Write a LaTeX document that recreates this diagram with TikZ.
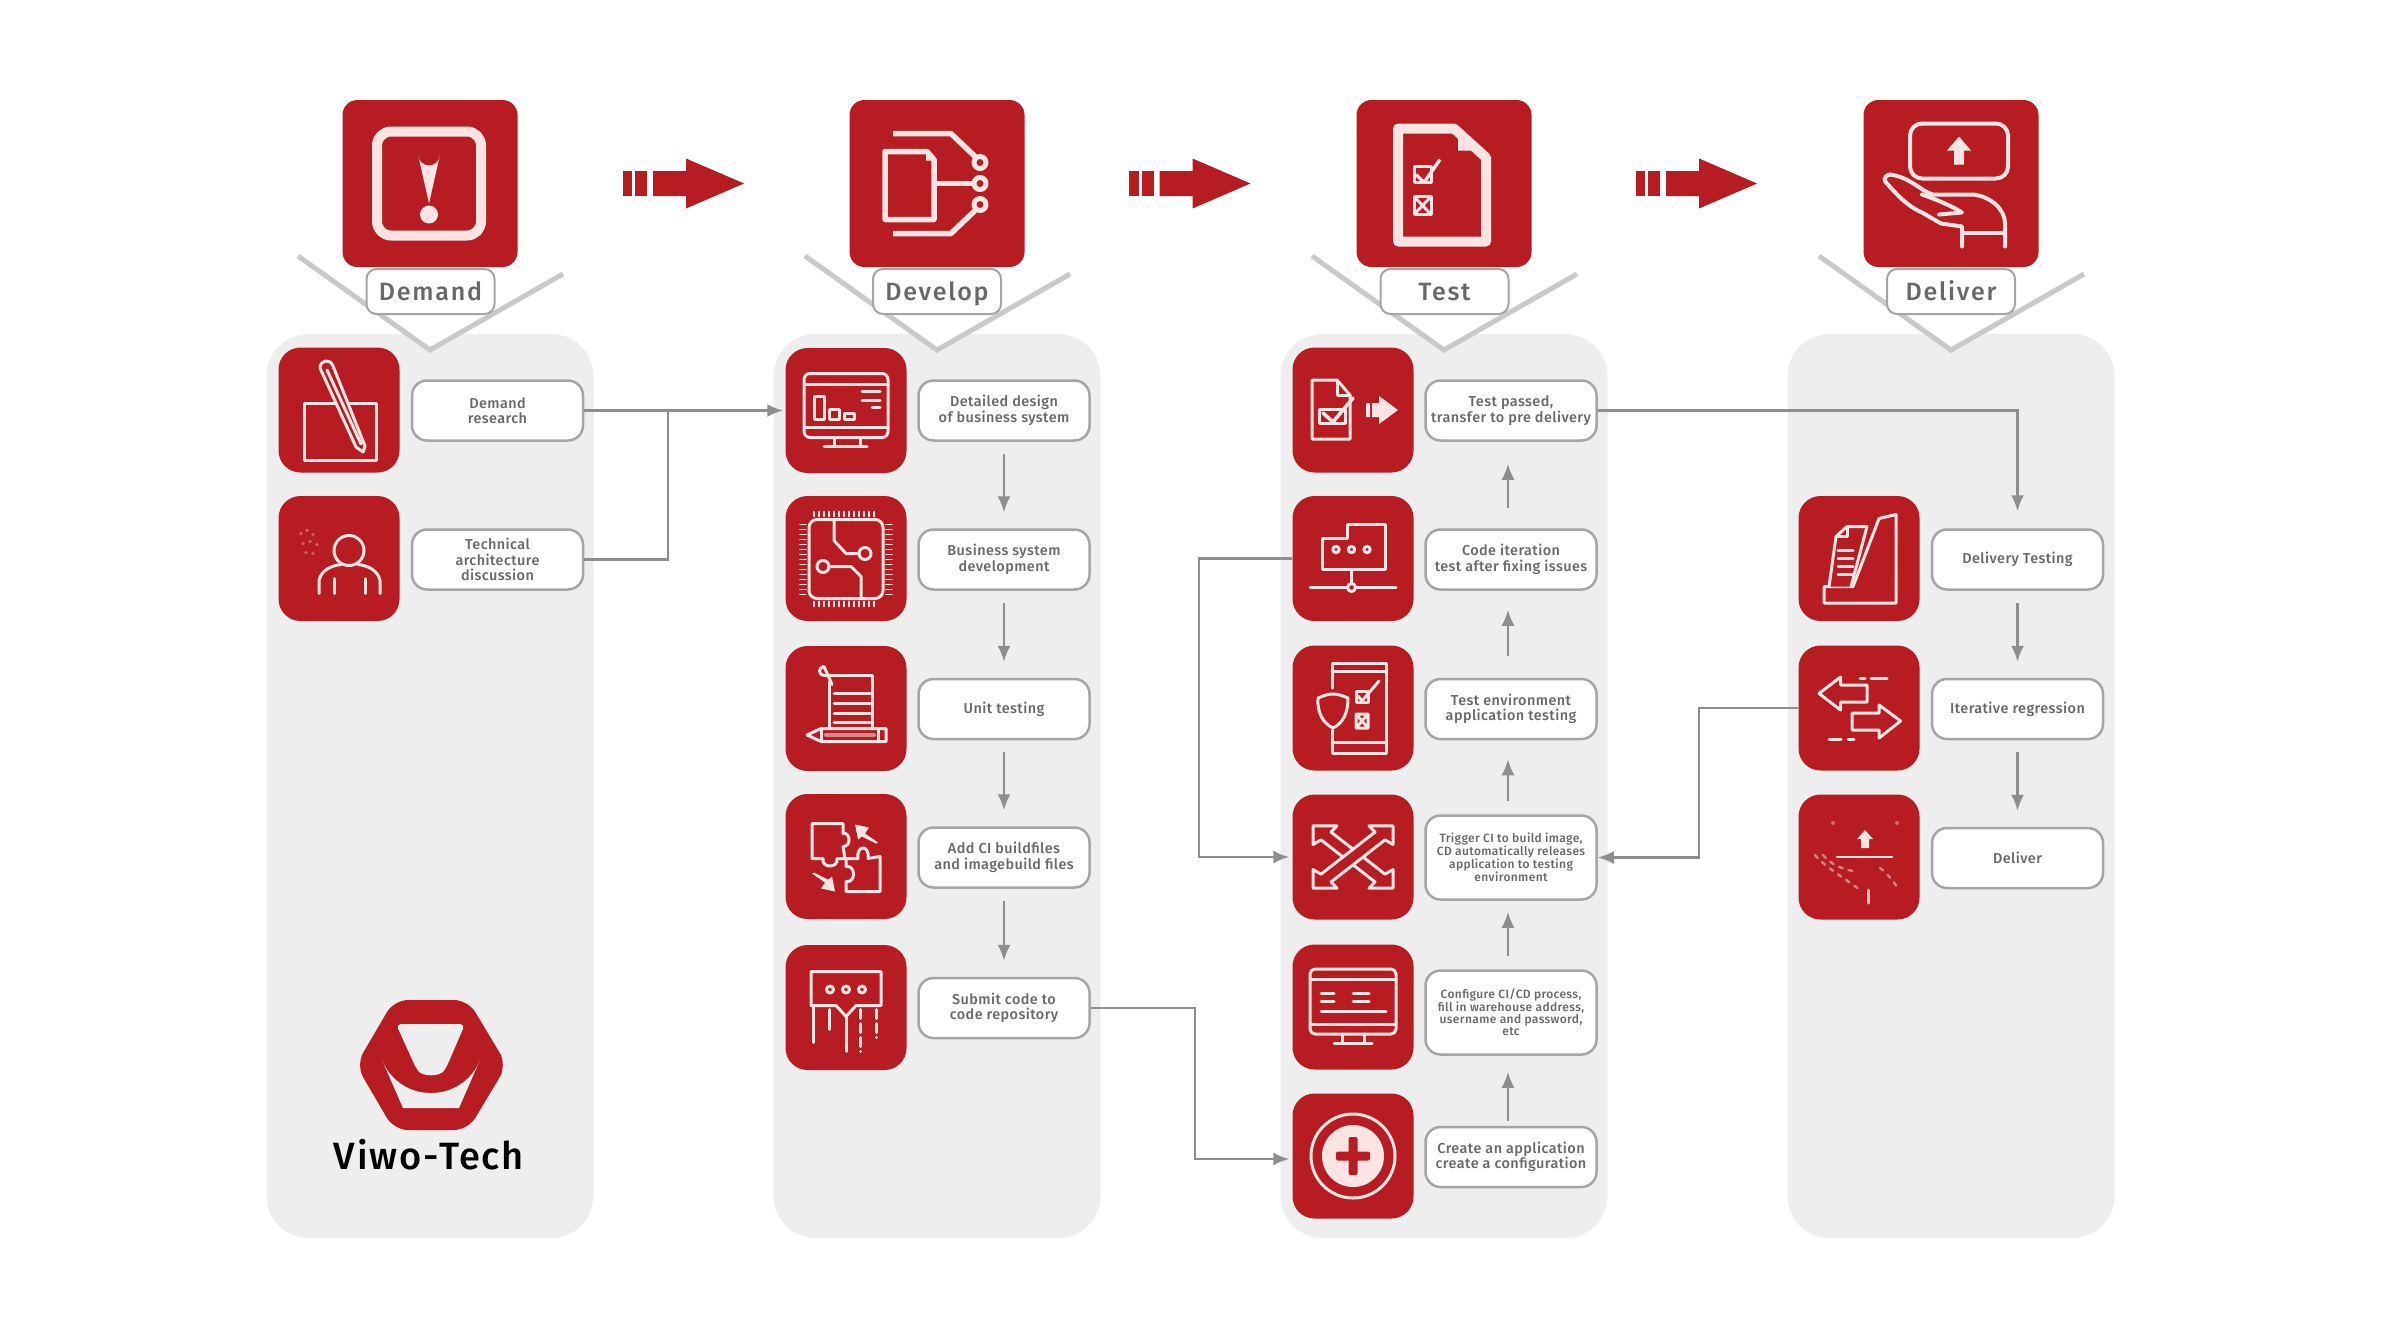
\documentclass[tikz,border=0pt]{standalone}
\usepackage{fontspec}
\setmainfont{Fira Sans}
\newfontfamily\headfont[LetterSpace=7]{Fira Sans Medium}
\newfontfamily\bodyfont[LetterSpace=3]{Fira Sans Medium}
\newfontfamily\logofont[LetterSpace=5]{Fira Sans Medium}
\usetikzlibrary{arrows.meta,positioning,calc}
\definecolor{boxred}{HTML}{B71C22}
\definecolor{iconwhite}{HTML}{FBE4E2}
\definecolor{panelgray}{HTML}{EEEEEE}
\definecolor{edgegray}{HTML}{A3A5A7}
\definecolor{veegray}{HTML}{C9C9C9}
\definecolor{linegray}{HTML}{8C8E90}
\definecolor{textgray}{HTML}{66686B}
\newcommand{\oneline}[1]{\raisebox{-3pt}{#1}}
\tikzset{
  panel/.style={fill=panelgray,rounded corners=42pt},
  headbox/.style={fill=boxred,rounded corners=15pt,minimum width=175pt,minimum height=167pt,inner sep=0pt},
  headlabel/.style={draw=edgegray,fill=white,rounded corners=10pt,line width=2pt,minimum width=128pt,minimum height=45pt,inner sep=0pt,text=textgray,text height=22pt,text depth=5pt,font=\headfont\fontsize{25}{25}\selectfont},
  iconbox/.style={fill=boxred,rounded corners=22pt,minimum width=121pt,minimum height=125pt,inner sep=0pt},
  textbox/.style={draw=edgegray,fill=white,rounded corners=15pt,line width=2.5pt,minimum width=171pt,minimum height=60pt,inner sep=0pt,align=center,text=textgray,font=\bodyfont\fontsize{14.4}{15.5}\selectfont},
  tinytext/.style={font=\bodyfont\fontsize{12}{12}\selectfont},
  link/.style={draw=linegray,line width=2.6pt},
  conn/.style={link,-{Latex[length=16pt,width=13pt]}},
  flow/.style={conn,line width=2.2pt},
  icon/.style={draw=iconwhite,line width=3pt,line cap=round,line join=round},
  headicon/.style={draw=iconwhite,line width=5.5pt,line join=round},
}
\begin{document}
\begin{tikzpicture}[x=1pt,y=-1pt]
\useasboundingbox (0,0) rectangle (2381,1339);

% panels and the V under each head
\foreach \x in {430,937,1444,1951} {
\fill[panel] (\x-163.5,334) rectangle (\x+163.5,1238);
\fill[white] (\x-132,256) -- (\x,350) -- (\x+133,274) -- (\x,225) -- cycle;
\draw[veegray,line width=5pt] (\x-132,256) -- (\x,350) -- (\x+133,274);
}

% heads
\foreach \nm/\x in {demandhead/430,develophead/937,testhead/1444,deliverhead/1951}
\node[headbox] (\nm) at (\x,183.5) {};
\node[headlabel] (demandlabel) at (430.5,291.5) {Demand};
\node[headlabel] (developlabel) at (937,291.5) {Develop};
\node[headlabel] (testlabel) at (1444.5,291.5) {Test};
\node[headlabel] (deliverlabel) at (1951,291.5) {Deliver};

% big arrows between the heads
\foreach \x in {622.5,1129,1635.5} {
\begin{scope}[shift={(\x,183.5)}]
\fill[boxred] (0,-12.5) rectangle (9.5,12.5);
\fill[boxred] (12.5,-12.5) rectangle (24.5,12.5);
\fill[boxred] (30.5,-12.5) -- (63.5,-12.5) -- (63.5,-25) -- (121.5,0) -- (63.5,25) -- (63.5,12.5) -- (30.5,12.5) -- cycle;
\end{scope}
}

% icon boxes
\foreach \nm/\x/\y in {researchicon/339/410,archicon/339/558.5,
  designicon/846/410.5,chipicon/846/558.5,uniticon/846/708.5,buildicon/846/856.5,submiticon/846/1007.5,
  passedicon/1353/410,iteraticon/1353/558.5,envicon/1353/708,triggericon/1353/857,configicon/1353/1007,createicon/1353/1156,
  delivtesticon/1859/558.5,regressicon/1859/708,delivericon/1859/857}
\node[iconbox] (\nm) at (\x,\y) {};

% text boxes
\node[textbox] (researchbox) at (497.5,410.5) {Demand\\research};
\node[textbox] (archbox) at (497.5,559.5) {Technical\\architecture\\discussion};
\node[textbox] (designbox) at (1004,410.5) {Detailed design\\of business system};
\node[textbox] (chipbox) at (1004,559.5) {Business system\\development};
\node[textbox] (unitbox) at (1004,709) {\oneline{Unit testing}};
\node[textbox] (buildbox) at (1004,857.5) {Add CI buildfiles\\and imagebuild files};
\node[textbox] (submitbox) at (1004,1008) {Submit code to\\code repository};
\node[textbox] (passedbox) at (1511,410.5) {Test passed,\\transfer to pre delivery};
\node[textbox] (iterbox) at (1511,559.5) {Code iteration\\test after fixing issues};
\node[textbox] (envbox) at (1511,709) {Test environment\\application testing};
\node[textbox,tinytext,minimum height=84pt] (triggerbox) at (1511,857.5) {Trigger CI to build image,\\CD automatically releases\\application to testing\\environment};
\node[textbox,tinytext,minimum height=84pt] (configbox) at (1511,1012.5) {Configure CI/CD process,\\fill in warehouse address,\\username and password,\\etc};
\node[textbox] (createbox) at (1511,1157) {Create an application\\create a configuration};
\node[textbox] (delivtestbox) at (2017.5,559.5) {\oneline{Delivery Testing}};
\node[textbox] (regressbox) at (2017.5,709) {\oneline{Iterative regression}};
\node[textbox] (deliverbox) at (2017.5,858) {\oneline{Deliver}};

% connectors
\coordinate (joinc) at (668,410.5);
\draw[conn,shorten >=2pt] (researchbox) -- (designicon);
\draw[link] (archbox.east) -| (joinc);
\coordinate (submitc) at (1195,1008);
\draw[conn,shorten >=3pt] (submitbox.east) -- (submitc) |- ($(createicon.west)+(0,3)$);
\coordinate (iterc) at (1199,558.5);
\draw[conn,shorten >=3pt] (iteraticon.west) -- (iterc) |- (triggericon.west);
\draw[conn,shorten >=17pt] (passedbox.east) -| (delivtestbox.north);
\coordinate (regressc) at (1699,708);
\draw[conn] (regressicon.west) -- (regressc) |- (triggerbox.east);
\foreach \a/\b in {designbox/chipbox,chipbox/unitbox,unitbox/buildbox,buildbox/submitbox,delivtestbox/regressbox,regressbox/deliverbox}
\draw[flow,shorten <=12pt,shorten >=16pt] (\a) -- (\b);
\foreach \a/\b/\s/\e in {createbox/configbox/5/16,configbox/triggerbox/13/11,triggerbox/envbox/13/19,envbox/iterbox/22/19,iterbox/passedbox/20/22}
\draw[flow,shorten <=\s pt,shorten >=\e pt] ($(\a.north)+(-3,0)$) -- ($(\b.south)+(-3,0)$);

% logo
\fill[boxred,rounded corners=14pt] (394,1000) -- (468,1000) -- (507,1065) -- (468,1130) -- (394,1130) -- (356,1065) -- cycle;
\fill[panelgray,rounded corners=5pt] (396,1024) -- (465,1024) -- (447,1066) .. controls (440,1077) and (422,1077) .. (415,1066) -- cycle;
\fill[panelgray] (382,1060) .. controls (400,1104) and (462,1104) .. (480,1060) -- (459,1108) -- (403,1108) -- cycle;
\node[font=\logofont\fontsize{38}{38}\selectfont,text=black,inner sep=0pt] (logotext) at (429,1155) {Viwo-Tech};

% head icons
\begin{scope}[shift={(430,183.5)},headicon]
\draw[line width=10pt,rounded corners=14pt] (-53,-52) rectangle (51,52);
\fill[iconwhite] (-12,-29) arc (180:0:11) -- (-1,20) -- cycle;
\fill[iconwhite] (-1,31) circle (9);
\end{scope}
\begin{scope}[shift={(937,183.5)},headicon]
\draw (-52,-32) -- (-10,-32) -- (-3,-24) -- (-3,36) -- (-52,36) -- cycle;
\fill[iconwhite] (-11,-30) -- (-5,-23) -- (-11,-23) -- cycle;
\draw (-44,-50) -- (14,-50) -- (38,-27);
\draw (-44,50) -- (14,50) -- (38,27);
\draw (-3,0) -- (36,0);
\foreach \y in {-21,0,21} \draw[line width=5pt] (43,\y) circle (6);
\end{scope}
\begin{scope}[shift={(1444,183.5)},headicon]
\draw[line width=10pt] (-46,-55) -- (10,-55) -- (42,-26) -- (42,58) -- (-46,58) -- cycle;
\fill[iconwhite] (14,-48) -- (27,-33) -- (14,-33) -- cycle;
\draw[line width=3pt] (-30,-17) rectangle (-13,-1);
\draw[line width=3.4pt] (-28,-9) -- (-20,-1) -- (-4,-24);
\draw[line width=3pt] (-30,13) rectangle (-13,31);
\draw[line width=3pt] (-30,13) -- (-13,31) (-13,13) -- (-30,31);
\end{scope}
\begin{scope}[shift={(1951,183.5)},icon,line width=4pt]
\draw[rounded corners=12pt] (-41,-60) rectangle (57,-5);
\fill[iconwhite] (8,-47) -- (20,-33) -- (13,-33) -- (13,-19) -- (3,-19) -- (3,-33) -- (-4,-33) -- cycle;
\draw (-61,-9) .. controls (-40,-6) and (-30,8) .. (-18,11) -- (22,11) .. controls (40,13) and (54,26) .. (54,40) -- (54,63);
\draw (-61,-9) .. controls (-68,-7) and (-67,-3) .. (-65,-1) .. controls (-55,10) and (-45,22) .. (-29,29) -- (-10,40) -- (11,43) -- (11,63);
\draw (-29,11) .. controls (-15,16) and (0,22) .. (11,29) -- (-12,31);
\draw (11,49) -- (52,49);
\end{scope}

% demand icons
\begin{scope}[shift={(339,410)},icon]
\draw (-35,-7) rectangle (37,50);
\draw[fill=boxred] (-19,-42) .. controls (-19,-50) and (-9,-52) .. (-6,-44) -- (26,36) -- (24,42) -- (17,37) -- cycle;
\draw (-12,-40) -- (22,34);
\end{scope}
\begin{scope}[shift={(339,558.5)},icon]
\draw (10,-8) ellipse (15 and 15);
\draw (-20,35) -- (-20,22) .. controls (-18,12) and (-8,7) .. (2,6);
\draw (41,35) -- (41,22) .. controls (39,12) and (29,7) .. (19,6);
\draw (-5,35) -- (-5,20) (26,35) -- (26,20);
\foreach \a/\b in {-38/-25,-32/-28,-26/-24,-36/-15,-29/-17,-22/-14,-33/-6,-26/-5}
\fill[iconwhite,opacity=.35] (\a,\b) circle (1.8);
\end{scope}

% develop icons
\begin{scope}[shift={(846,410.5)},icon]
\draw[rounded corners=6pt] (-42,-37) rectangle (42,27);
\draw (-42,-26) -- (42,-26) (-42,17) -- (42,17);
\draw (-32,-14) rectangle (-22,9) (-17,-1) rectangle (-7,9) (-2,3) rectangle (8,9);
\draw (16,-19) -- (34,-19) (16,-10) -- (34,-10) (26,-3) -- (34,-3);
\draw (-12,27) -- (-12,36) (14,27) -- (14,36) (-22,36) -- (21,36);
\end{scope}
\begin{scope}[shift={(846,558.5)},icon]
\draw[rounded corners=8pt] (-37,-39) rectangle (37,40);
\foreach \x in {-32,-27,...,32} \draw[line width=1.8pt] (\x,-47) -- (\x,-42) (\x,43) -- (\x,48);
\foreach \y in {-34,-29,...,36} \draw[line width=1.8pt] (-46,\y) -- (-40,\y) (40,\y) -- (46,\y);
\draw (-12,-39) -- (-12,-18) -- (0,-5) -- (13,-5);
\draw (19,-5) circle (6);
\draw (-23,8) circle (6);
\draw (-17,8) -- (5,8) -- (15,18) -- (15,40);
\end{scope}
\begin{scope}[shift={(846,708.5)},icon]
\draw (-17,20) -- (-17,-27) (26,20) -- (26,-33) -- (-22,-33);
\draw (-22,-33) arc (90:270:4.5) -- (-14,-24);
\foreach \y in {-15,-5,5,14} \draw (-12,\y) -- (24,\y);
\draw (-25,20) -- (40,20) -- (40,33) -- (-25,33) -- (-39,26.5) -- cycle;
\draw (-25,20) -- (-25,33) (32,20) -- (32,33);
\draw[line width=4pt,opacity=.55] (-20,26.5) -- (28,26.5);
\end{scope}
\begin{scope}[shift={(846,856.5)},icon]
\draw (-34,-33) -- (-3,-33) -- (-3,-23) .. controls (4,-25) and (6,-10) .. (-3,-10) -- (-1,2) -- (-9,2) .. controls (-7,12) and (-25,12) .. (-23,2) -- (-34,2) -- cycle;
\draw (34,0) -- (34,35) -- (0,35) -- (0,25) .. controls (10,27) and (10,8) .. (0,10) -- (0,2) -- (12,2) .. controls (10,-12) and (24,-12) .. (22,2) -- cycle;
\fill[iconwhite] (9,-32) -- (23,-29) -- (19,-23) -- (32,-14) -- (30,-13) -- (16,-20) -- (12,-17) -- cycle;
\fill[iconwhite] (-11,35) -- (-25,32) -- (-21,26) -- (-34,17) -- (-32,16) -- (-18,23) -- (-14,20) -- cycle;
\end{scope}
\begin{scope}[shift={(846,1007.5)},icon]
\draw (-35,-2) -- (-35,-36) -- (35,-36) -- (35,-2) -- (10,-2) -- (0,9) -- (-10,-2) -- cycle;
\foreach \x in {-16,0,16} \draw (\x,-18) circle (3.5);
\draw (-33,-2) -- (-33,35) (-17,2) -- (-17,22) (0,9) -- (0,44);
\draw[dash pattern=on 9pt off 5pt] (14,2) -- (14,44) (30,2) -- (30,30);
\end{scope}

% test icons
\begin{scope}[shift={(1353,410)},icon]
\draw (-3,29) -- (-41,29) -- (-41,-30) -- (-16,-30) -- (-3,-15) -- cycle;
\draw (-16,-30) -- (-16,-15) -- (-3,-15);
\draw (-34,-1) rectangle (-8,13);
\draw[line width=3.6pt] (-30,3) -- (-20,12) -- (0,-12);
\fill[iconwhite] (13,-7) rectangle (17,7) (19,-7) rectangle (26,7);
\fill[iconwhite] (26,-14) -- (45,0) -- (26,14) -- cycle;
\end{scope}
\begin{scope}[shift={(1353,558.5)},icon]
\draw (-31,-20) -- (-6,-20) -- (-6,-34) -- (32,-34) -- (32,11) -- (-31,11) -- cycle;
\foreach \x in {-17,-1.5,14} \draw (\x,-9) circle (3.2);
\draw (-1.5,11) -- (-1.5,25);
\draw (-43,29) -- (43,29);
\draw[fill=boxred] (-1.5,29) circle (4);
\end{scope}
\begin{scope}[shift={(1353,708)},icon]
\draw (-21,-20) -- (-21,-45) -- (33,-45) -- (33,45) -- (-21,45) -- (-21,22);
\draw (-21,-37) -- (33,-37) (-21,34) -- (33,34);
\draw[fill=boxred] (-20,-14) .. controls (-26,-14) and (-30,-12) .. (-35,-10) .. controls (-36,5) and (-30,15) .. (-20,20) .. controls (-10,15) and (-5,5) .. (-5,-10) .. controls (-10,-12) and (-14,-14) .. (-20,-14) -- cycle;
\draw (3,-17) rectangle (15,-6);
\draw (5,-12) -- (9,-7) -- (26,-27);
\draw (3,6) rectangle (15,20) (3,6) -- (15,20) (15,6) -- (3,20);
\end{scope}
\begin{scope}[shift={(1353,857)},yscale=.78,icon]
\draw[xscale=-1] (40,-40) -- (16,-40) -- (22,-32) -- (-32,22) -- (-40,16) -- (-40,40) -- (-16,40) -- (-22,32) -- (32,-22) -- (40,-16) -- cycle;
\draw[fill=boxred] (40,-40) -- (16,-40) -- (22,-32) -- (-32,22) -- (-40,16) -- (-40,40) -- (-16,40) -- (-22,32) -- (32,-22) -- (40,-16) -- cycle;
\end{scope}
\begin{scope}[shift={(1353,1007)},icon]
\draw[rounded corners=5pt] (-43,-38) rectangle (43,27);
\draw (-43,-28) -- (43,-28) (-32,-13.5) -- (-19,-13.5) (-32,-5.5) -- (-19,-5.5) (0,-13.5) -- (16,-13.5) (0,-5.5) -- (16,-5.5) (-32,4) -- (33,4) (-43,17) -- (43,17);
\draw (-11,27) -- (-11,36) (11,27) -- (11,36) (-19,36) -- (19,36);
\end{scope}
\begin{scope}[shift={(1353,1156)},icon]
\draw[line width=3pt] (0,0) circle (42);
\fill[iconwhite] (0,0) circle (31);
\fill[boxred,rounded corners=2pt] (-4.5,-19) rectangle (4.5,19) (-17,-4.5) rectangle (17,4.5);
\end{scope}

% deliver icons
\begin{scope}[shift={(1859,558.5)},icon]
\draw (-35,28) -- (-35,44.5) -- (37,44.5) -- (37,-44) -- (20,-40) -- (-6,28) -- cycle;
\draw[fill=boxred] (-30,28) -- (-23,-22) -- (-12,-32) -- (8,-32) -- (-8,28);
\draw (-23,-22) -- (-12,-22) -- (-12,-32);
\foreach \y in {-8,0,8,16} \draw (-21,\y) -- (-6,\y);
\end{scope}
\begin{scope}[shift={(1859,708)},icon]
\draw (8,-23) -- (-18.5,-23) -- (-18.5,-31) -- (-40,-14.5) -- (-18.5,2) -- (-18.5,-6) -- (8,-6) -- cycle;
\draw (-7,5) -- (20,5) -- (20,-3) -- (41.6,13) -- (20,30) -- (20,22) -- (-7,22) -- cycle;
\draw (1,-30) -- (6,-30) (12,-30) -- (28,-30);
\draw (-30,31) -- (-18,31) (-11,31) -- (-5,31);
\end{scope}
\begin{scope}[shift={(1859,857)},icon,line width=2.4pt]
\fill[iconwhite] (6,-27) -- (14,-18) -- (10,-18) -- (10,-9) -- (2,-9) -- (2,-18) -- (-2,-18) -- cycle;
\draw (-22,0) -- (33,0);
\draw[draw opacity=.5,dash pattern=on 4pt off 6pt] (-44,-2) .. controls (-34,10) and (-16,20) .. (1,33) (-36,-2) .. controls (-28,8) and (-16,12) .. (-6,14) (21,11) .. controls (28,16) and (34,24) .. (38,30);
\draw[draw opacity=.8,line width=3pt] (9,33) -- (9,46);
\fill[iconwhite,opacity=.4] (-26,-34) circle (2) (38,-34) circle (2);
\end{scope}
\end{tikzpicture}
\end{document}
